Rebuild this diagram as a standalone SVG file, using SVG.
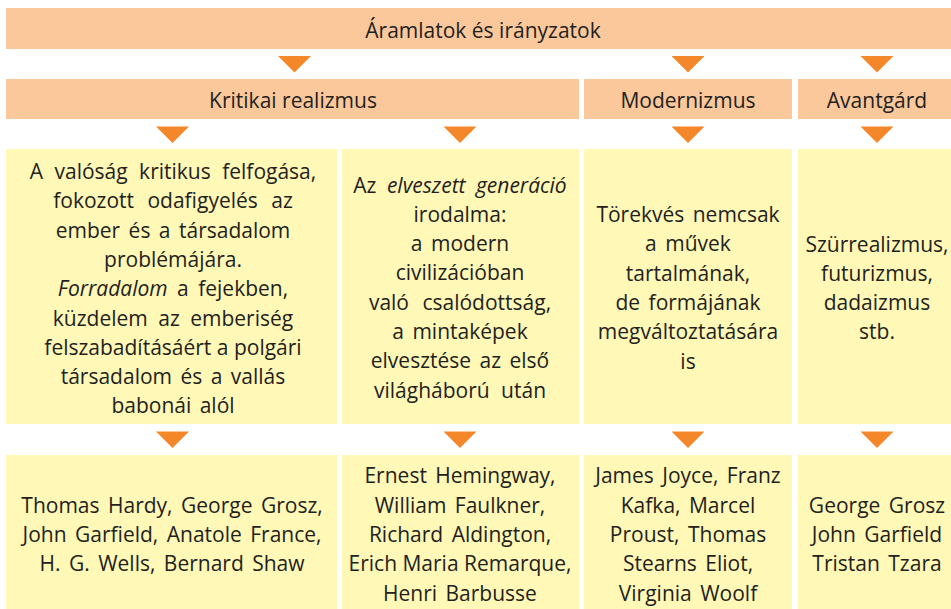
<svg xmlns="http://www.w3.org/2000/svg" width="951" height="609" viewBox="0 0 951 609">
<style>
.hd{fill:#FBC89C}
.bx{fill:#FFF8B6}
.ar{fill:#F3872A}
text{font-family:"Open Sans","Noto Sans","Liberation Sans",sans-serif;font-size:21px;fill:#231F20;text-anchor:middle}
.b text{word-spacing:3px}
.it{font-style:italic}
</style>
<defs>
<polygon id="tri" points="-16.5,0 16.5,0 0,16.5"/>
</defs>
<rect width="951" height="609" fill="#FFFFFF"/>
<g id="connectors" class="ar">
<use href="#tri" x="294.5" y="56"/>
<use href="#tri" x="688" y="56"/>
<use href="#tri" x="877" y="56"/>
<use href="#tri" x="172.5" y="126.5"/>
<use href="#tri" x="460" y="126.5"/>
<use href="#tri" x="688" y="126.5"/>
<use href="#tri" x="877" y="126.5"/>
<use href="#tri" x="172.5" y="431.5"/>
<use href="#tri" x="460" y="431.5"/>
<use href="#tri" x="688" y="431.5"/>
<use href="#tri" x="877" y="431.5"/>
</g>
<g id="header">
<rect class="hd" x="6" y="8" width="945" height="41"/>
<text x="483" y="38">Áramlatok és irányzatok</text>
</g>
<g id="kritikai">
<rect class="hd" x="6" y="79" width="573" height="40"/>
<text x="293" y="108">Kritikai realizmus</text>
</g>
<g id="modernizmus">
<rect class="hd" x="584" y="79" width="208" height="40"/>
<text x="688" y="108">Modernizmus</text>
</g>
<g id="avantgard">
<rect class="hd" x="798" y="79" width="153" height="40"/>
<text x="877" y="108">Avantgárd</text>
</g>
<g id="desc1" class="b">
<rect class="bx" x="6" y="149" width="331" height="275"/>
<text x="173" y="179" style="word-spacing:6px">A valóság kritikus felfogása,</text>
<text x="173" y="208.3" style="word-spacing:8px">fokozott odafigyelés az</text>
<text x="173" y="237.6">ember és a társadalom</text>
<text x="173" y="266.9">problémájára.</text>
<text x="173" y="296.2" style="word-spacing:4px"><tspan class="it">Forradalom</tspan> a fejekben,</text>
<text x="173" y="325.5" style="word-spacing:5px">küzdelem az emberiség</text>
<text x="173" y="354.8" style="word-spacing:0px">felszabadításáért a polgári</text>
<text x="173" y="384.1">társadalom és a vallás</text>
<text x="173" y="413.4">babonái alól</text>
</g>
<g id="desc2" class="b">
<rect class="bx" x="342" y="149" width="237" height="275"/>
<text x="460" y="192.5" style="word-spacing:5px">Az <tspan class="it">elveszett generáció</tspan></text>
<text x="460" y="221.8">irodalma:</text>
<text x="460" y="251.1">a modern</text>
<text x="460" y="280.4">civilizációban</text>
<text x="460" y="309.7" style="word-spacing:8px">való csalódottság,</text>
<text x="460" y="339">a mintaképek</text>
<text x="460" y="368.3">elvesztése az első</text>
<text x="460" y="397.6" style="word-spacing:6px">világháború után</text>
</g>
<g id="desc3" class="b">
<rect class="bx" x="584" y="149" width="208" height="275"/>
<text x="688" y="222">Törekvés nemcsak</text>
<text x="688" y="251.3">a művek</text>
<text x="688" y="280.6">tartalmának,</text>
<text x="688" y="309.9">de formájának</text>
<text x="688" y="339.2">megváltoztatására</text>
<text x="688" y="368.5">is</text>
</g>
<g id="desc4" class="b">
<rect class="bx" x="798" y="149" width="153" height="275"/>
<text x="877" y="251.5">Szürrealizmus,</text>
<text x="877" y="280.8">futurizmus,</text>
<text x="877" y="310.1">dadaizmus</text>
<text x="877" y="339.4">stb.</text>
</g>
<g id="authors1" class="b">
<rect class="bx" x="6" y="455" width="331" height="154"/>
<text x="172" y="512.7">Thomas Hardy, George Grosz,</text>
<text x="172" y="542">John Garfield, Anatole France,</text>
<text x="172" y="571.3">H. G. Wells, Bernard Shaw</text>
</g>
<g id="authors2" class="b">
<rect class="bx" x="342" y="455" width="237" height="154"/>
<text x="460" y="483.4">Ernest Hemingway,</text>
<text x="460" y="512.7">William Faulkner,</text>
<text x="460" y="542">Richard Aldington,</text>
<text x="460" y="571.3" style="word-spacing:0px">Erich Maria Remarque,</text>
<text x="460" y="600.6">Henri Barbusse</text>
</g>
<g id="authors3" class="b">
<rect class="bx" x="584" y="455" width="208" height="154"/>
<text x="688" y="483.4">James Joyce, Franz</text>
<text x="688" y="512.7">Kafka, Marcel</text>
<text x="688" y="542">Proust, Thomas</text>
<text x="688" y="571.3">Stearns Eliot,</text>
<text x="688" y="600.6">Virginia Woolf</text>
</g>
<g id="authors4" class="b">
<rect class="bx" x="798" y="455" width="153" height="154"/>
<text x="877" y="512.7">George Grosz</text>
<text x="877" y="542">John Garfield</text>
<text x="877" y="571.3">Tristan Tzara</text>
</g>
</svg>
